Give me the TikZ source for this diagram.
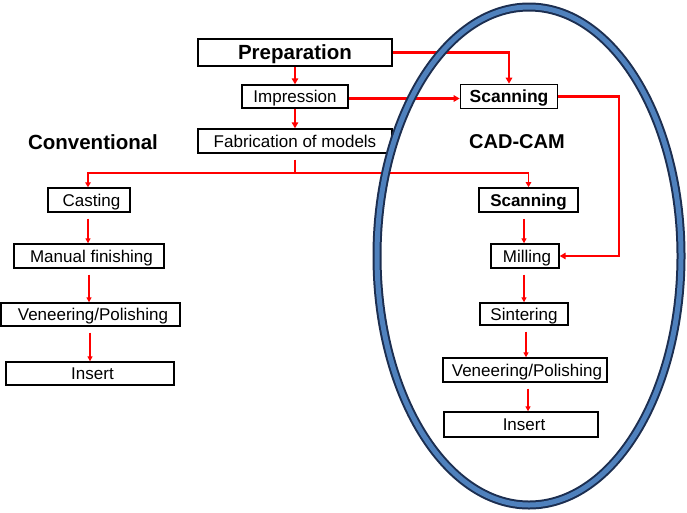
\documentclass[tikz,border=0pt]{standalone}
\usepackage{fontspec}
\setmainfont{Liberation Sans}
\usetikzlibrary{arrows.meta,calc}
\definecolor{ellblue}{RGB}{79,129,189}
\definecolor{elldark}{RGB}{28,46,80}
\definecolor{arrred}{RGB}{255,0,0}
\begin{document}
\begin{tikzpicture}[x=1pt,y=-1pt,
  box/.style={draw=black,line width=1.4pt,inner sep=0pt,minimum height=24pt,text height=12.2pt,text depth=0pt,font=\fontsize{17}{20}\selectfont},
  bbox/.style={box,line width=1.7pt,font=\fontsize{17.5}{20}\selectfont\bfseries},
  lbl/.style={inner sep=0pt,font=\fontsize{20.5}{24}\selectfont\bfseries},
  bigarrow/.style={draw=arrred,line width=2.1pt,-{Triangle[length=6pt,width=6.5pt]}},
  midline/.style={draw=arrred,line width=1.5pt},
  sarrow/.style={draw=arrred,line width=1.3pt,-{Triangle[length=5pt,width=5pt]},shorten <=6pt}
]
\useasboundingbox (0,0) rectangle (687,512);
% top part
\node[bbox,minimum width=194pt,minimum height=27pt,text height=14.7pt,font=\fontsize{20.5}{24}\selectfont\bfseries] (prep) at (295,52.5) {Preparation};
\node[box,minimum width=106pt,minimum height=23pt] (imp) at (295,96.5) {Impression};
\node[box,minimum width=194pt] (fab) at (295,141) {Fabrication of models};
\node[bbox,minimum width=97pt] (scantop) at (509,96.5) {Scanning};
\node[lbl] (conv) at (93,142) {Conventional};
\node[lbl,font=\fontsize{20}{24}\selectfont\bfseries] (cad) at (517,142) {CAD-CAM};
% left stack
\node[box,minimum width=82pt] (cast) at (89,200) {\hspace*{5pt}Casting};
\node[box,minimum width=150pt] (manual) at (89,256) {\hspace*{5pt}Manual finishing};
\node[box,minimum width=179pt,minimum height=23pt] (venl) at (90.5,314.5) {\hspace*{5pt}Veneering/Polishing};
\node[box,minimum width=168pt,minimum height=23pt] (insl) at (90,373.5) {\hspace*{5pt}Insert};
% right stack
\node[bbox,minimum width=99pt,font=\fontsize{17}{20}\selectfont\bfseries] (scanr) at (528.5,200) {Scanning};
\node[box,minimum width=68pt] (mill) at (525,256) {\hspace*{4pt}Milling};
\node[box,minimum width=88pt,minimum height=22pt] (sint) at (524,314) {Sintering};
\node[box,minimum width=164pt] (venr) at (525,370) {\hspace*{4pt}Veneering/Polishing};
\node[box,minimum width=154pt,minimum height=25pt] (insr) at (521,424.5) {\hspace*{6pt}Insert};
% coordinates
\coordinate (split) at (295,173);
\coordinate (bend) at (619,0);
% connectors top
\draw[bigarrow] (prep.south) -- (imp.north);
\draw[bigarrow] (imp.south) -- (fab.north);
\draw[bigarrow] (prep.east) -| (scantop.north);
\draw[bigarrow] ([yshift=-2pt]imp.east) -- ([yshift=-2pt]scantop.west);
\draw[bigarrow,line width=2.4pt] (scantop.east) -- (scantop.east -| bend) |- (mill.east);
% branch
\draw[midline] ([yshift=-6pt]fab.south) -- (split);
\draw[midline,{Triangle[length=5pt,width=5.5pt]}-{Triangle[length=5pt,width=5.5pt]}]
  ([xshift=-1pt]cast.north) -- ([xshift=-1pt]cast.north |- split) -- (scanr.north |- split) -- (scanr.north);
% left stack arrows
\draw[sarrow] ([xshift=-1pt]cast.south) -- ([xshift=-1pt]cast.south |- manual.north);
\draw[sarrow] (manual.south) -- (manual.south |- venl.north);
\draw[sarrow] ([xshift=-0.5pt]venl.south) -- ([xshift=-0.5pt]venl.south |- insl.north);
% right stack arrows
\draw[sarrow] ([xshift=-1pt]mill.north |- scanr.south) -- ([xshift=-1pt]mill.north);
\draw[sarrow] ([xshift=-1pt]mill.south) -- ([xshift=-1pt]mill.south |- sint.north);
\draw[sarrow] ([xshift=2pt]sint.south) -- ([xshift=2pt]sint.south |- venr.north);
\draw[sarrow] ([xshift=3pt]venr.south) -- ([xshift=3pt]venr.south |- insr.north);
% ellipse
\draw[elldark,line width=9pt] (529,256) ellipse [x radius=152pt, y radius=249pt];
\draw[ellblue,line width=5pt] (529,256) ellipse [x radius=152pt, y radius=249pt];
\end{tikzpicture}
\end{document}
